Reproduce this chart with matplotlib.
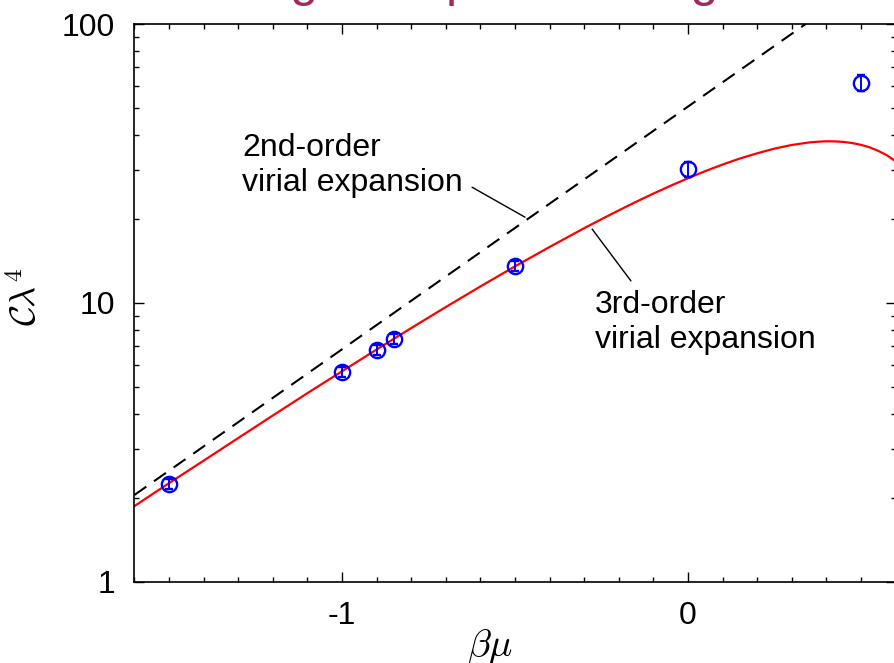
import numpy as np
import matplotlib
matplotlib.use("Agg")
import matplotlib.pyplot as plt
from matplotlib.ticker import FixedLocator, MultipleLocator, LogLocator, NullFormatter, FixedFormatter

plt.rcParams['font.family'] = ['Liberation Sans', 'DejaVu Sans']
plt.rcParams['mathtext.fontset'] = 'cm'
plt.rcParams['axes.unicode_minus'] = False

# measured contact (beta*mu, C*lambda^4, error)
bmu_data = [-1.5, -1.0, -0.9, -0.85, -0.5, 0.0, 0.5]
c_data = [2.25, 5.66, 6.78, 7.43, 13.6, 30.2, 61.5]
c_err = [0.09, 0.22, 0.27, 0.3, 0.55, 1.8, 4.0]

# 2nd-order virial expansion (straight line on the log axis)
bmu_2nd = [-1.6, 0.35]
c_2nd = [2.05, 102.0]

# 3rd-order virial expansion
bmu_3rd = [-1.6, -1.5, -1.4, -1.3, -1.2, -1.1, -1.0, -0.9, -0.8, -0.7, -0.6, -0.5,
           -0.4, -0.3, -0.25, -0.2, -0.15, -0.1, -0.05, 0.0, 0.05, 0.1, 0.15, 0.2, 0.25,
           0.3, 0.35, 0.375, 0.4, 0.425, 0.45, 0.475, 0.5, 0.525, 0.55, 0.575, 0.6]
c_3rd = [1.87, 2.26, 2.72, 3.28, 3.95, 4.75, 5.69, 6.81, 8.13, 9.67, 11.46, 13.53,
         15.88, 18.54, 19.97, 21.48, 23.05, 24.67, 26.32, 28.0, 29.70, 31.35, 32.95, 34.4, 35.76,
         36.85, 37.62, 37.85, 37.98, 37.95, 37.78, 37.43, 36.89, 36.13, 35.1, 33.83, 32.2]

fig = plt.figure(figsize=(8.94, 6.63), dpi=100)
ax = fig.add_axes([0.1503, 0.1222, 0.8515, 0.8416])

ax.plot(bmu_2nd, c_2nd, color='black', lw=1.5, linestyle=(0, (7, 4.5)))
ax.plot(bmu_3rd, c_3rd, color='red', lw=1.6)
ax.errorbar(bmu_data, c_data, yerr=c_err, fmt='o', ms=11, mfc='none', mec='blue',
            mew=1.7, ecolor='blue', elinewidth=1.4, capsize=3, capthick=1.4, zorder=5)

ax.set_yscale('log')
ax.set_xlim(-1.6, 0.6)
ax.set_ylim(1, 100)

ax.xaxis.set_major_locator(FixedLocator([-1, 0]))
ax.xaxis.set_major_formatter(FixedFormatter(['-1', '0']))
ax.xaxis.set_minor_locator(MultipleLocator(0.1))
ax.yaxis.set_major_locator(FixedLocator([1, 10, 100]))
ax.yaxis.set_major_formatter(FixedFormatter(['1', '10', '100']))
ax.yaxis.set_minor_locator(LogLocator(base=10, subs=np.arange(2, 10)))
ax.yaxis.set_minor_formatter(NullFormatter())

ax.tick_params(which='both', direction='in', top=True, right=True, width=1.0)
ax.tick_params(which='major', length=7, labelsize=23)
ax.tick_params(axis='x', which='major', pad=14)
ax.tick_params(axis='y', which='major', pad=14)
ax.tick_params(which='minor', length=3.5)
for s in ax.spines.values():
    s.set_linewidth(1.2)

ax.set_xlabel(r'$\beta\mu$', fontsize=28)
ax.xaxis.set_label_coords(0.467, -0.08)
ax.set_ylabel(r'$\mathcal{C}\lambda^4$', fontsize=26)
ax.yaxis.set_label_coords(-0.118, 0.51)

# curve labels with leader lines
ax.text(-1.289, 40.7, '2nd-order\nvirial expansion', fontsize=23, va='top', ha='left',
        linespacing=1.22)
ax.annotate('', xy=(-0.471, 20.3), xytext=(-0.624, 26.0),
            arrowprops=dict(arrowstyle='-', color='black', lw=1.0, shrinkA=0, shrinkB=0))
ax.text(-0.269, 11.1, '3rd-order\nvirial expansion', fontsize=23, va='top', ha='left',
        linespacing=1.22)
ax.annotate('', xy=(-0.165, 12.0), xytext=(-0.277, 18.4),
            arrowprops=dict(arrowstyle='-', color='black', lw=1.0, shrinkA=0, shrinkB=0))

fig.text(0.583, 1 + 4.5 / 663, 'High-temperature regime', fontsize=36, color='#a02a5c',
         ha='center', va='baseline')

fig.savefig('out.png', dpi=100)
